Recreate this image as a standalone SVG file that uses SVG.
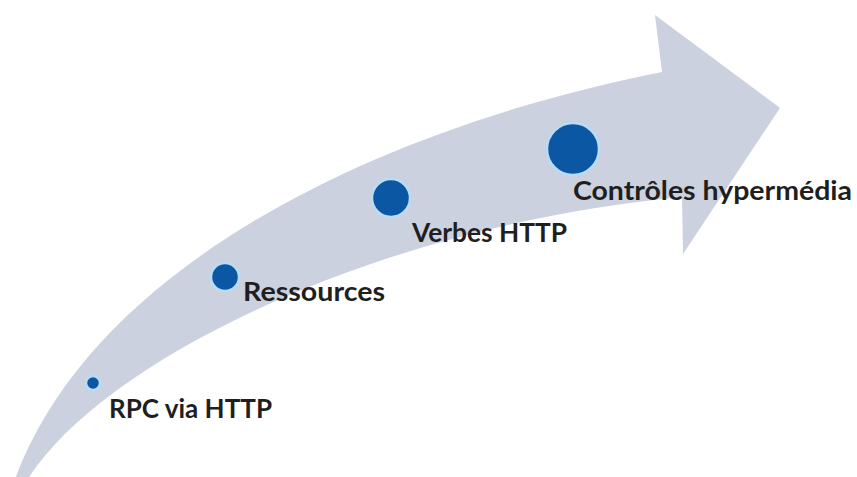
<svg xmlns="http://www.w3.org/2000/svg" width="857" height="477" viewBox="0 0 857 477">
  <style>
    .band { fill: #cbd1de; }
    .dot { fill: #0c57a3; stroke: #b9dcf4; stroke-width: 2.5; }
    .label { font-family: "Lato", "Liberation Sans", sans-serif; font-weight: 700; font-size: 26px; fill: #1f1f1f; }
  </style>

  <!-- curved progression arrow -->
  <g id="arrow">
    <path class="band" d="M 14 482
      C 90 270, 370 130, 662 72
      L 655 15
      L 780 108
      L 683 254
      L 682 197
      C 380 225, 100 360, 26 482 Z"/>
  </g>

  <g id="step-rpc">
    <circle class="dot" cx="93" cy="383" r="7"/>
    <text class="label" x="109" y="418" textLength="163" lengthAdjust="spacingAndGlyphs">RPC via HTTP</text>
  </g>

  <g id="step-ressources">
    <circle class="dot" cx="225" cy="277" r="14"/>
    <text class="label" x="243" y="301" textLength="142" lengthAdjust="spacingAndGlyphs">Ressources</text>
  </g>

  <g id="step-verbes">
    <circle class="dot" cx="391" cy="198" r="19"/>
    <text class="label" x="412" y="242" textLength="155" lengthAdjust="spacingAndGlyphs">Verbes HTTP</text>
  </g>

  <g id="step-controles">
    <circle class="dot" cx="573" cy="149" r="26"/>
    <text class="label" x="573" y="200" textLength="279" lengthAdjust="spacingAndGlyphs">Contrôles hypermédia</text>
  </g>
</svg>
